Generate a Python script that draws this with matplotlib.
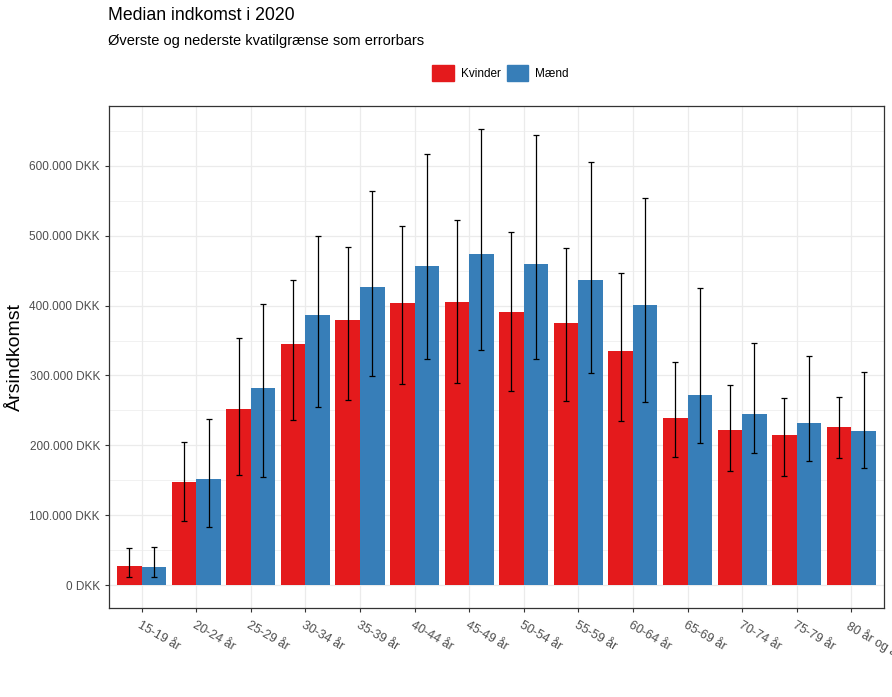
import matplotlib.pyplot as plt
import numpy as np
from matplotlib.ticker import FuncFormatter, MultipleLocator
from matplotlib.patches import Patch

plt.rcParams['font.family'] = ['Liberation Sans', 'DejaVu Sans']

# data
age_groups = ["15-19 år", "20-24 år", "25-29 år", "30-34 år", "35-39 år",
              "40-44 år", "45-49 år", "50-54 år", "55-59 år", "60-64 år",
              "65-69 år", "70-74 år", "75-79 år", "80 år og ældre"]

kvinder_median = [27200, 147300, 251600, 344600, 378900, 403200, 404600,
                  390300, 374600, 334600, 238800, 221600, 214500, 225900]
kvinder_low = [11000, 92500, 158200, 236900, 265500, 288300, 289800,
               278300, 264000, 235400, 184000, 163900, 156800, 182500]
kvinder_high = [53900, 205400, 354100, 437000, 483300, 514200, 521900,
                505200, 482800, 447000, 319800, 286900, 268300, 269700]

maend_median = [25700, 151600, 281700, 386000, 426100, 456100, 473200,
                458900, 436100, 400300, 271600, 244500, 231600, 220200]
maend_low = [11000, 83900, 155400, 255400, 299800, 324100, 336900,
             324100, 304100, 262600, 204000, 189700, 178200, 168200]
maend_high = [55300, 238300, 402700, 499900, 564300, 616200, 652900,
              643400, 605700, 554300, 425600, 347000, 328400, 305500]

red = "#E41A1C"
blue = "#377EB8"

fig = plt.figure(figsize=(8.92, 6.97), dpi=100)
ax = fig.add_axes([0.1222, 0.1277, 0.8688, 0.7202])

x = np.arange(len(age_groups))
w = 0.45

kw = np.array(kvinder_median)
mw = np.array(maend_median)
ax.bar(x - w/2, kw, width=w, color=red, zorder=2)
ax.bar(x + w/2, mw, width=w, color=blue, zorder=2)

err_style = dict(fmt="none", ecolor="black", elinewidth=0.9, capsize=2.3,
                 capthick=0.9, zorder=3)
ax.errorbar(x - w/2, kw,
            yerr=[kw - np.array(kvinder_low), np.array(kvinder_high) - kw],
            **err_style)
ax.errorbar(x + w/2, mw,
            yerr=[mw - np.array(maend_low), np.array(maend_high) - mw],
            **err_style)

ymax = max(max(maend_high), max(kvinder_high))
ax.set_ylim(-0.05 * ymax, 1.05 * ymax)
ax.set_xlim(-0.6, len(age_groups) - 0.4)

ax.yaxis.set_major_locator(MultipleLocator(100000))
ax.yaxis.set_minor_locator(MultipleLocator(50000))
ax.yaxis.set_major_formatter(
    FuncFormatter(lambda v, p: f"{int(v):,} DKK".replace(",", ".")))

# labels run off the right edge, as in the original
ax.set_xticks(x)
ax.set_xticklabels(age_groups, rotation=-30, ha="left", va="top",
                   rotation_mode="anchor", fontsize=9, color="#4D4D4D")
ax.tick_params(axis="y", which="major", labelsize=8.5, labelcolor="#4D4D4D",
               length=3, width=0.8, color="#333333")
ax.tick_params(axis="y", which="minor", length=0)
ax.tick_params(axis="x", length=3, width=0.8, color="#333333", pad=5)

ax.grid(which="major", color="#EBEBEB", lw=0.9, zorder=0)
ax.grid(which="minor", axis="y", color="#EBEBEB", lw=0.5, zorder=0)
ax.set_axisbelow(True)
for s in ax.spines.values():
    s.set_color("#333333")
    s.set_linewidth(0.9)

ax.set_ylabel("Årsindkomst", fontsize=14, labelpad=4)

fig.text(0.121, 1 - 16/697, "Median indkomst i 2020", fontsize=12.7,
         va="center", ha="left")
fig.text(0.121, 1 - 41/697, "Øverste og nederste kvatilgrænse som errorbars",
         fontsize=10.5, va="center", ha="left")

handles = [Patch(color=red, label="Kvinder"), Patch(color=blue, label="Mænd")]
fig.legend(handles=handles, loc="center", bbox_to_anchor=(0.561, 1 - 73/697),
           ncol=2, frameon=False, fontsize=8.5, handlelength=1.8,
           handleheight=1.8, handletextpad=0.6, columnspacing=0.5)

fig.savefig("out.png", dpi=100)
